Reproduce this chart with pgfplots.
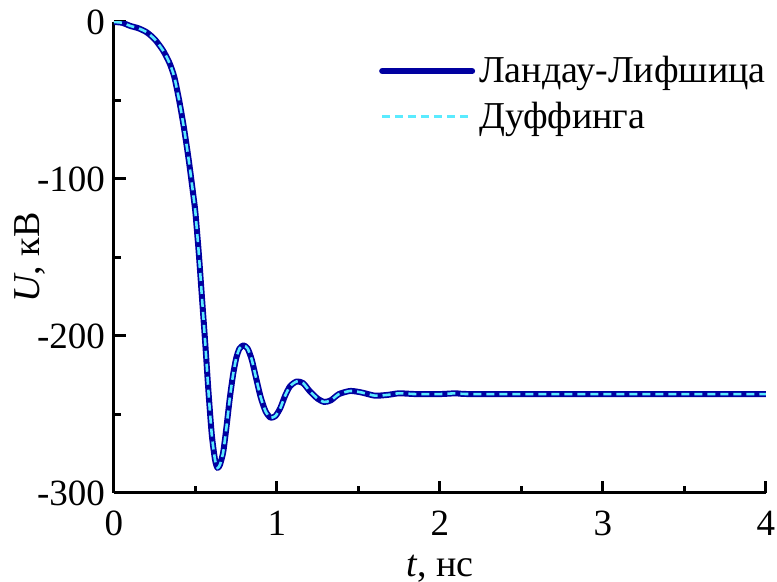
\documentclass[border=0pt]{standalone}
\usepackage{fontspec}
\setmainfont{Liberation Serif}
\usepackage{pgfplots}
\pgfplotsset{compat=1.18}
\definecolor{landau}{RGB}{0,0,160}
\definecolor{duff}{RGB}{90,235,255}
\begin{document}
\begin{tikzpicture}
\begin{axis}[
  scale only axis,
  width=326pt, height=235.5pt,
  xmin=0, xmax=4, ymin=-300, ymax=0,
  axis x line*=bottom, axis y line*=left,
  axis line style={line width=1.5pt, black},
  xtick={0,1,2,3,4}, ytick={-300,-200,-100,0},
  minor x tick num=1, minor y tick num=1,
  tick align=inside,
  major tick length=6pt, minor tick length=3.5pt,
  tick style={line width=1.5pt, black},
  /pgf/number format/assume math mode=true,
  ticklabel style={font=\fontsize{18.5}{22}\selectfont},
  xticklabel style={yshift=-5.5pt},
  yticklabel style={xshift=-1pt},
  xlabel={\textit{t}, нс},
  ylabel={\textit{U}, кВ},
  label style={font=\fontsize{19}{22}\selectfont},
  xlabel style={yshift=-2.5pt},
  ylabel style={yshift=-11pt},
  legend style={draw=none, fill=none, at={(rel axis cs:1,1)}, anchor=north east,
    xshift=5pt, yshift=-13pt,
    font=\fontsize{19}{22}\selectfont, row sep=4pt,
    /tikz/every even column/.append style={column sep=0pt}},
  legend cell align=left,
  legend image code/.code={\draw[#1] (0pt,0pt) -- (45pt,0pt);},
]
\addplot[landau, line width=3pt, line cap=round, line join=round, smooth, tension=0.4] coordinates {
(0,0) (0.05,-0.5) (0.10,-2.5) (0.15,-4) (0.20,-6.5) (0.25,-11) (0.30,-18) (0.34,-26)
(0.37,-35) (0.40,-50) (0.43,-68) (0.46,-89) (0.49,-113) (0.50,-122) (0.52,-147)
(0.54,-176) (0.56,-205) (0.58,-236) (0.60,-263) (0.62,-279) (0.635,-284) (0.65,-282)
(0.67,-274) (0.69,-258) (0.71,-240) (0.73,-225) (0.75,-214) (0.77,-208) (0.795,-206)
(0.82,-208) (0.845,-215) (0.87,-226) (0.90,-239) (0.93,-248) (0.96,-252) (0.99,-251)
(1.02,-246) (1.05,-238) (1.08,-232) (1.12,-229) (1.16,-230) (1.20,-235) (1.25,-240)
(1.29,-242) (1.33,-241) (1.38,-237) (1.45,-235) (1.52,-236) (1.60,-238) (1.68,-237.5)
(1.75,-236.5) (1.85,-237) (2.0,-237) (2.1,-236.5) (2.2,-237) (3.0,-237) (4.0,-237)
};
\addlegendentry{Ландау-Лифшица}
\addplot[duff, line width=1.3pt, dash pattern=on 4pt off 2.5pt, smooth, tension=0.4] coordinates {
(0,0) (0.05,-0.5) (0.10,-2.5) (0.15,-4) (0.20,-6.5) (0.25,-11) (0.30,-18) (0.34,-26)
(0.37,-35) (0.40,-50) (0.43,-68) (0.46,-89) (0.49,-113) (0.50,-122) (0.52,-147)
(0.54,-176) (0.56,-205) (0.58,-236) (0.60,-263) (0.62,-279) (0.635,-284) (0.65,-282)
(0.67,-274) (0.69,-258) (0.71,-240) (0.73,-225) (0.75,-214) (0.77,-208) (0.795,-206)
(0.82,-208) (0.845,-215) (0.87,-226) (0.90,-239) (0.93,-248) (0.96,-252) (0.99,-251)
(1.02,-246) (1.05,-238) (1.08,-232) (1.12,-229) (1.16,-230) (1.20,-235) (1.25,-240)
(1.29,-242) (1.33,-241) (1.38,-237) (1.45,-235) (1.52,-236) (1.60,-238) (1.68,-237.5)
(1.75,-236.5) (1.85,-237) (2.0,-237) (2.1,-236.5) (2.2,-237) (3.0,-237) (4.0,-237)
};
\addlegendentry{Дуффинга}
\end{axis}
\pgfresetboundingbox
\path (-57pt,-44.5pt) rectangle (331.5pt,246.5pt);
\end{tikzpicture}
\end{document}
